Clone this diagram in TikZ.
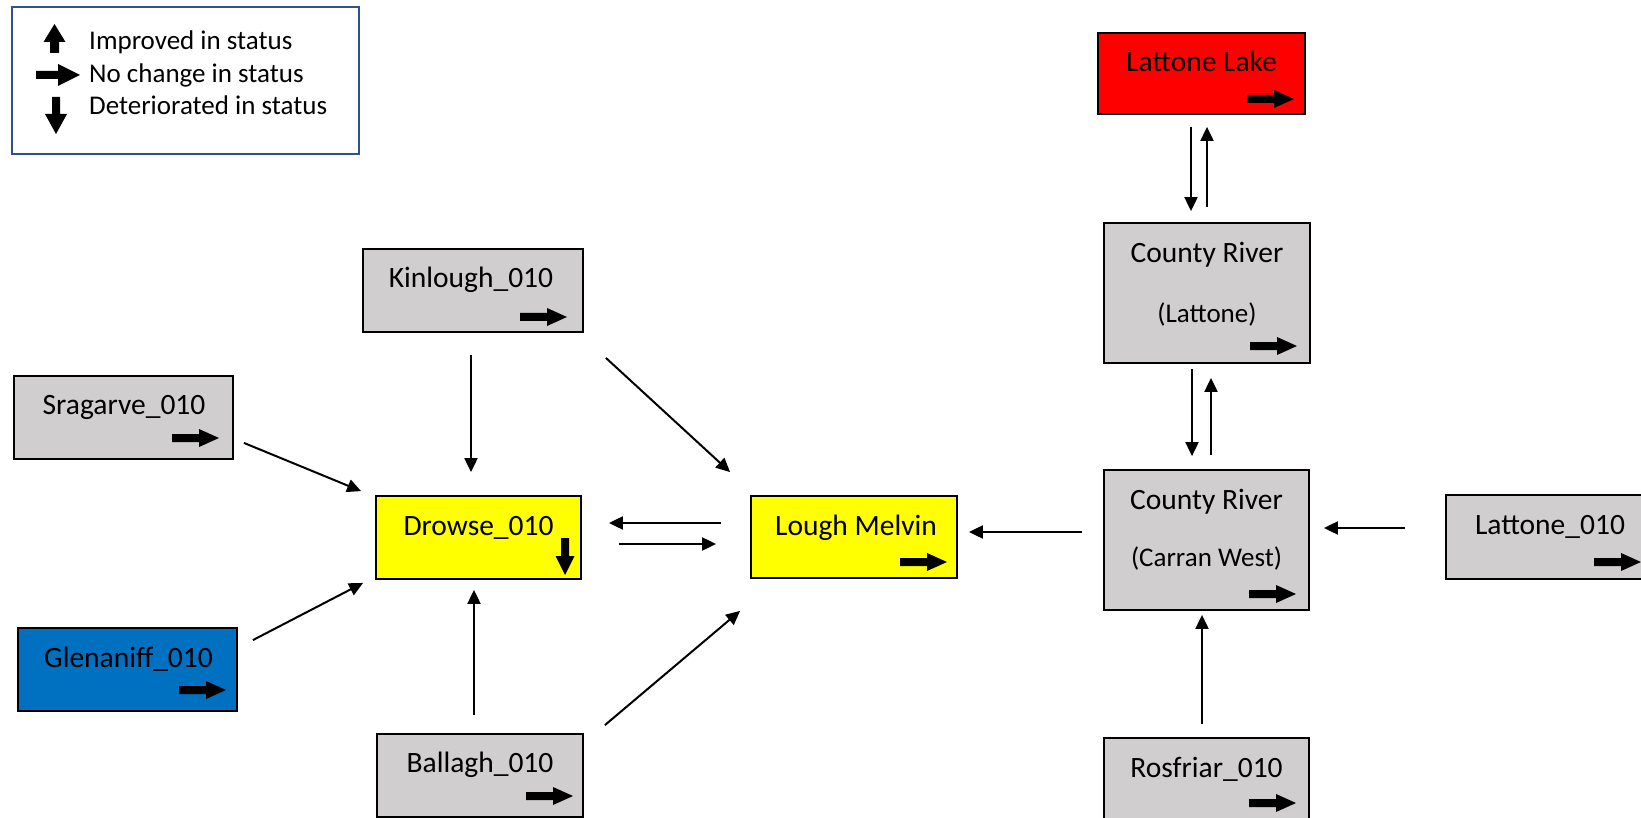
\documentclass[tikz,border=0pt]{standalone}
\usepackage{fontspec}
\setmainfont{Carlito}
\usetikzlibrary{arrows.meta,calc}
\definecolor{boxgrey}{RGB}{208,206,206}
\definecolor{lakered}{RGB}{255,0,0}
\definecolor{melyellow}{RGB}{255,255,0}
\definecolor{glenblue}{RGB}{0,112,192}
\definecolor{legendblue}{RGB}{47,82,143}
\tikzset{
  basebox/.style={draw=black, line width=1.8pt, rectangle, inner sep=0pt, minimum height=83pt},
  greybox/.style={basebox, fill=boxgrey},
  yellowbox/.style={basebox, fill=melyellow},
  redbox/.style={basebox, fill=lakered},
  bluebox/.style={basebox, fill=glenblue},
  lbl/.style={anchor=base, inner sep=0pt, font=\fontsize{29.5}{35}\selectfont},
  sublbl/.style={anchor=base, inner sep=0pt, font=\fontsize{27}{32}\selectfont},
  legtext/.style={anchor=base west, inner sep=0pt, font=\fontsize{27}{32}\selectfont},
  conn/.style={line width=2pt, -{Triangle[length=14pt,width=13pt]}},
  rarrow/.pic={\fill[black] (-47,-4) -- (-20,-4) -- (-20,-9) -- (0,0) -- (-20,9) -- (-20,4) -- (-47,4) -- cycle;},
  darrow/.pic={\fill[black] (-4,-37) -- (-4,-19) -- (-9.5,-19) -- (0,0) -- (9.5,-19) -- (4,-19) -- (4,-37) -- cycle;},
}
\begin{document}
\begin{tikzpicture}[x=1pt,y=-1pt]
\useasboundingbox (0,0) rectangle (1641,818);
\fill[white] (0,0) rectangle (1641,818);

% legend
\node[draw=legendblue, line width=2pt, rectangle, inner sep=0pt, minimum width=347pt, minimum height=147pt, anchor=north west] (legend) at (11,6) {};
\fill[black] (54.5,24) -- (65.5,42) -- (59,42) -- (59,53) -- (50,53) -- (50,42) -- (43.5,42) -- cycle;
\fill[black] (36,71) -- (58,71) -- (58,64) -- (80,75) -- (58,86) -- (58,79) -- (36,79) -- cycle;
\fill[black] (52,97) -- (60,97) -- (60,114) -- (67,114) -- (56,134) -- (45,114) -- (52,114) -- cycle;
\node[legtext] (leg1) at (89,50) {Improved in status};
\node[legtext] (leg2) at (89,82.5) {No change in status};
\node[legtext] (leg3) at (89,115) {Deteriorated in status};

% boxes
\node[redbox, minimum width=207pt, minimum height=81pt] (lake) at (1201.5,73.5) {};
\node[greybox, minimum width=206pt, minimum height=140pt] (crl) at (1207,293) {};
\node[greybox, minimum width=205pt, minimum height=140pt] (crc) at (1206.5,540) {};
\node[greybox, minimum width=208pt, minimum height=84pt] (lat) at (1550,537) {};
\node[greybox, minimum width=205pt] (ros) at (1206.5,779.5) {};
\node[greybox, minimum width=220pt] (kin) at (473,290.5) {};
\node[greybox, minimum width=219pt] (srag) at (123.5,417.5) {};
\node[bluebox, minimum width=219pt] (glen) at (127.5,669.5) {};
\node[yellowbox, minimum width=205pt] (drowse) at (478.5,537.5) {};
\node[yellowbox, minimum width=206pt, minimum height=82pt] (melvin) at (854,537) {};
\node[greybox, minimum width=206pt] (ballagh) at (480,775.5) {};

% labels
\node[lbl] (laket) at ($(lake.north)+(0,39)$) {Lattone Lake};
\node[lbl] (crlt) at ($(crl.north)+(0,40)$) {County River};
\node[sublbl] (crls) at ($(crl.north)+(0,100)$) {(Lattone)};
\node[lbl] (crct) at ($(crc.north)+(0,40.5)$) {County River};
\node[sublbl] (crcs) at ($(crc.north)+(0,97.5)$) {(Carran West)};
\node[lbl] (latt) at ($(lat.north)+(0,40.5)$) {Lattone\_010};
\node[lbl] (rost) at ($(ros.north)+(0,40)$) {Rosfriar\_010};
\node[lbl] (kint) at ($(kin.north)+(-2,39.5)$) {Kinlough\_010};
\node[lbl] (sragt) at ($(srag.north)+(0.5,39.5)$) {Sragarve\_010};
\node[lbl] (glent) at ($(glen.north)+(1,40)$) {Glenaniff\_010};
\node[lbl] (drowset) at ($(drowse.north)+(0,40)$) {Drowse\_010};
\node[lbl] (melvint) at ($(melvin.north)+(2,40)$) {Lough Melvin};
\node[lbl] (ballaght) at ($(ballagh.north)+(0,39)$) {Ballagh\_010};

% status arrows
\pic at (1294,99) {rarrow};
\pic at (1297,346) {rarrow};
\pic at (1296,594) {rarrow};
\pic at (1641,562) {rarrow};
\pic at (1296,803) {rarrow};
\pic at (567,317) {rarrow};
\pic at (219,438) {rarrow};
\pic at (226,690) {rarrow};
\pic at (573,796) {rarrow};
\pic at (947,562) {rarrow};
\pic at (565,575) {darrow};

% connectors
\draw[conn] ($(kin.south)+(-2,22)$) -- ($(drowse.north)+(-7.5,-23)$);
\draw[conn] ($(kin.south east)+(22,25)$) -- ($(melvin.north west)+(-20,-23)$);
\draw[conn] ($(srag.south east)+(10,-17)$) -- ($(drowse.north west)+(-14,-4)$);
\draw[conn] ($(glen.north east)+(15,13)$) -- ($(drowse.south west)+(-12,3)$);
\draw[conn] ($(ballagh.north)+(-6,-18)$) -- ($(drowse.south)+(-4.5,10)$);
\draw[conn] ($(ballagh.north east)+(21,-8)$) -- ($(melvin.south west)+(-10,32)$);
\draw[conn] ($(melvin.west)+(-29,-14)$) -- ($(drowse.east)+(27,-14.5)$);
\draw[conn] ($(drowse.east)+(37,6.5)$) -- ($(melvin.west)+(-34,7)$);
\draw[conn] ($(crc.west)+(-21,-8)$) -- ($(melvin.east)+(11,-5)$);
\draw[conn] ($(lat.west)+(-40,-9)$) -- ($(crc.east)+(14,-12)$);
\draw[conn] ($(ros.north)+(-4.5,-13)$) -- ($(crc.south)+(-4.5,4)$);
\draw[conn] ($(crl.south)+(-15,5)$) -- ($(crc.north)+(-14.5,-13)$);
\draw[conn] ($(crc.north)+(4.5,-14)$) -- ($(crl.south)+(4,14)$);
\draw[conn] ($(lake.south)+(-10.5,12)$) -- ($(crl.north)+(-16,-11)$);
\draw[conn] ($(crl.north)+(0,-15)$) -- ($(lake.south)+(5.5,12)$);
\end{tikzpicture}
\end{document}
